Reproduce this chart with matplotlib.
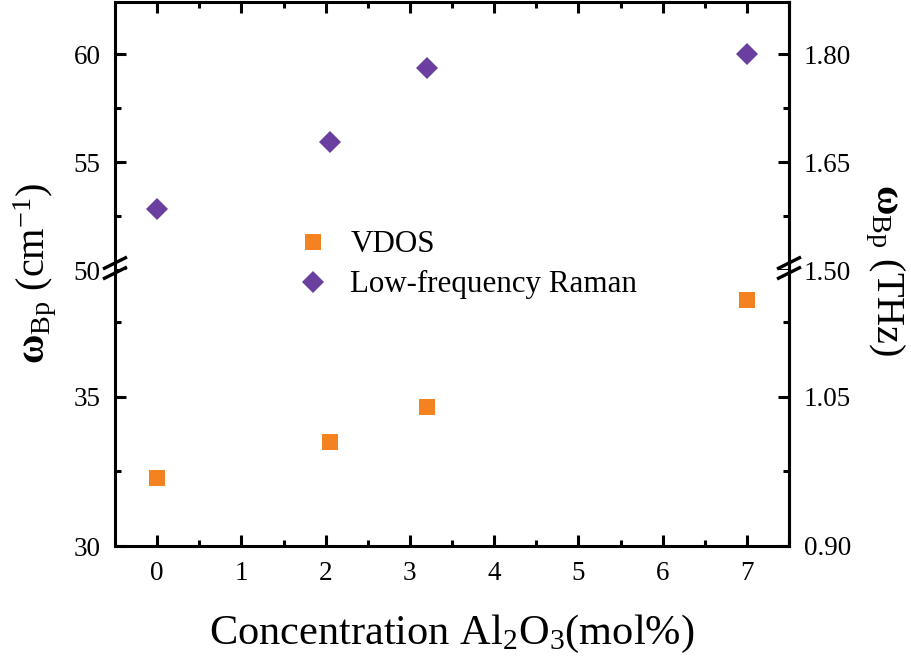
import matplotlib
matplotlib.use('Agg')
import matplotlib.pyplot as plt
from matplotlib.ticker import MultipleLocator, FixedLocator, FormatStrFormatter
from matplotlib.lines import Line2D

plt.rcParams['font.family'] = ['Liberation Serif', 'DejaVu Serif']
plt.rcParams['mathtext.fontset'] = 'custom'
plt.rcParams['mathtext.rm'] = 'Liberation Serif'
plt.rcParams['mathtext.it'] = 'Liberation Serif:italic'
plt.rcParams['mathtext.bf'] = 'Liberation Serif:bold'

# ---- data ----
conc_vdos = [0, 2.05, 3.2, 7]
vdos_cm = [32.27, 33.48, 34.66, 38.24]
conc_raman = [0, 2.05, 3.2, 7]
raman_cm = [52.84, 55.95, 59.37, 60.0]
x_ticks = [0, 1, 2, 3, 4, 5, 6, 7]
top_yticks = [50, 55, 60]
bot_yticks = [30, 35]
top_thz_ticks = [1.50, 1.65, 1.80]
bot_thz_ticks = [0.90, 1.05]
CM_TO_THZ = 0.03

orange = '#F58220'
purple = '#6B3FA0'
LW = 2.2
TICK_FS = 19.5

fig = plt.figure(figsize=(9.11, 6.62), dpi=100)
L, W = 115 / 911, 674 / 911
ax_top = fig.add_axes([L, 1 - 270 / 662, W, 268 / 662])
ax_bot = fig.add_axes([L, 1 - 546 / 662, W, 276 / 662])

for ax in (ax_top, ax_bot):
    ax.plot(conc_vdos, vdos_cm, linestyle='none', marker='s', ms=11.5,
            color=orange, mec=orange, mew=0, clip_on=True)
    ax.plot(conc_raman, raman_cm, linestyle='none', marker='D', ms=11.0,
            color=purple, mec=purple, mew=0, clip_on=True)
    ax.set_xlim(-0.5, 7.5)
    ax.set_xticks(x_ticks)
    ax.xaxis.set_minor_locator(MultipleLocator(0.5))
    for s in ax.spines.values():
        s.set_linewidth(LW)
    ax.tick_params(which='both', direction='in', width=LW, labelsize=TICK_FS, pad=10.5)
    ax.tick_params(which='major', length=8)
    ax.tick_params(which='minor', length=4.5)
    ax.yaxis.set_minor_locator(MultipleLocator(2.5))

ax_top.set_ylim(50, 62.42)
ax_top.set_yticks(top_yticks)
ax_bot.set_ylim(30, 39.24)
ax_bot.set_yticks(bot_yticks)

ax_top.spines['bottom'].set_visible(False)
ax_bot.spines['top'].set_visible(False)
ax_top.tick_params(axis='x', which='both', bottom=False, top=True, labelbottom=False)
ax_bot.tick_params(axis='x', which='both', bottom=True, top=False)

for ax, tks, minors in ((ax_top, top_thz_ticks, [1.575, 1.725, 1.875 - 0.0]),
                        (ax_bot, bot_thz_ticks, [0.975, 1.125])):
    sec = ax.secondary_yaxis('right', functions=(lambda v: v * CM_TO_THZ,
                                                  lambda v: v / CM_TO_THZ))
    sec.spines['right'].set_linewidth(LW)
    sec.tick_params(which='both', direction='in', width=LW, labelsize=TICK_FS, pad=10.5)
    sec.tick_params(which='major', length=8)
    sec.tick_params(which='minor', length=4.5)
    sec.yaxis.set_major_locator(FixedLocator(tks))
    lo, hi = ax.get_ylim()
    sec.yaxis.set_minor_locator(FixedLocator([m for m in minors
                                              if lo * CM_TO_THZ < m < hi * CM_TO_THZ]))
    sec.yaxis.set_major_formatter(FormatStrFormatter('%.2f'))

ax_bot.set_xlabel(r'Concentration Al$_2$O$_3$(mol%)', fontsize=30.5, labelpad=20)

fig.text(35 / 911, 1 - 273 / 662, r'$\mathbf{\omega}_{\mathrm{Bp}}$ (cm$^{-1}$)',
         rotation=90, ha='center', va='center', fontsize=29)
fig.text(885 / 911, 1 - 270 / 662, r'$\mathbf{\omega}_{\mathrm{Bp}}$ (THz)',
         rotation=270, ha='center', va='center', fontsize=29)

# break marks on both vertical spines
yb = 1 - 270 / 662
for xs in (115 / 911, 789 / 911):
    for dy in (-3 / 662, 7 / 662):
        fig.add_artist(Line2D([xs - 12 / 911, xs + 12 / 911],
                              [yb + dy - 6 / 662, yb + dy + 6 / 662],
                              transform=fig.transFigure, color='black', lw=2.4,
                              solid_capstyle='butt'))

handles = [Line2D([], [], linestyle='none', marker='s', ms=11.5, color=orange, mew=0),
           Line2D([], [], linestyle='none', marker='D', ms=11.0, color=purple, mew=0)]
fig.legend(handles, ['VDOS', 'Low-frequency Raman'], loc='upper left',
           bbox_to_anchor=(279 / 911, 1 - 215 / 662), frameon=False, fontsize=22.3,
           handletextpad=0.6, labelspacing=0.35, handlelength=1.2, borderpad=0)

fig.savefig('out.png', dpi=100)
